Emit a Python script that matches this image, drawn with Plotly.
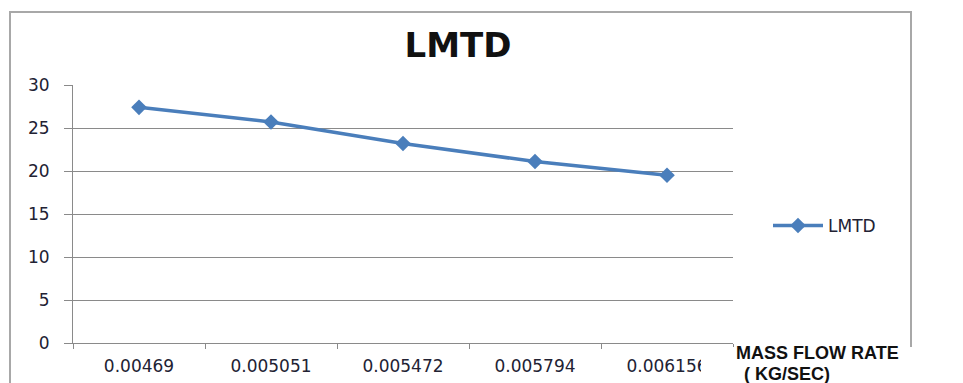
import plotly.graph_objects as go

# Mass flow rate (kg/s) categories and the corresponding LMTD values
mass_flow = ["0.00469", "0.005051", "0.005472", "0.005794", "0.006156"]
lmtd = [27.4, 25.7, 23.2, 21.1, 19.5]
y_ticks = [0, 5, 10, 15, 20, 25, 30]

W, H = 963, 383
L, R, T, B = 73, 230, 85, 40
PW, PH = W - L - R, H - T - B


def px_x(px):
    return (px - L) / PW


def px_y(py):
    return (H - B - py) / PH


blue = "#4a7ebb"
grid = "#8a8a8a"
txt = "#222233"

fig = go.Figure()
fig.add_trace(go.Scatter(
    x=mass_flow, y=lmtd, name="LMTD", mode="lines+markers",
    line=dict(color=blue, width=3.5),
    marker=dict(symbol="diamond", size=12, color=blue),
))

fig.update_layout(
    width=W, height=H,
    margin=dict(l=L, r=R, t=T, b=B, pad=0, autoexpand=False),
    paper_bgcolor="white", plot_bgcolor="white",
    font=dict(family="DejaVu Sans", color=txt),
    title=dict(text="<b>LMTD</b>", x=px_x(458), xref="paper", xanchor="center",
               y=1 - 45 / H, yanchor="middle",
               font=dict(family="DejaVu Sans", size=34, color="#111111")),
    showlegend=True,
    legend=dict(x=px_x(768), y=px_y(226), xanchor="left", yanchor="middle",
                font=dict(family="DejaVu Sans", size=17, color=txt),
                bgcolor="rgba(0,0,0,0)", itemwidth=50),
    xaxis=dict(
        type="category", tickson="boundaries", range=[-0.5, 4.5],
        showline=True, linecolor=grid, linewidth=1,
        ticks="outside", ticklen=5, tickcolor=grid,
        showgrid=False, zeroline=False, automargin=False,
        tickfont=dict(family="DejaVu Sans", size=17, color=txt),
        ticklabelstandoff=8,
    ),
    yaxis=dict(
        range=[0, 30], tickvals=y_ticks,
        showline=True, linecolor=grid, linewidth=1,
        ticks="outside", ticklen=8, tickcolor=grid,
        showgrid=True, gridcolor=grid, gridwidth=1, zeroline=False,
        automargin=False,
        tickfont=dict(family="DejaVu Sans", size=17, color=txt),
        ticklabelstandoff=11,
    ),
    shapes=[
        # chart-area frame
        dict(type="rect", xref="paper", yref="paper",
             x0=px_x(10), x1=px_x(911), y0=px_y(420), y1=px_y(12),
             line=dict(color="#a8a8a8", width=2), layer="below"),
        # background box behind the x-axis title
        dict(type="rect", xref="paper", yref="paper",
             x0=px_x(701), x1=px_x(975), y0=px_y(400), y1=px_y(347),
             fillcolor="white", line=dict(width=0), layer="above"),
    ],
    annotations=[
        dict(text="<b>MASS FLOW RATE</b>", xref="paper", yref="paper",
             x=px_x(734), y=px_y(353), xanchor="left", yanchor="middle",
             showarrow=False,
             font=dict(family="Liberation Sans", size=18, color="#111111")),
        dict(text="<b>( KG/SEC)</b>", xref="paper", yref="paper",
             x=px_x(742), y=px_y(374), xanchor="left", yanchor="middle",
             showarrow=False,
             font=dict(family="Liberation Sans", size=18, color="#111111")),
    ],
)

fig.write_html("out.html")
